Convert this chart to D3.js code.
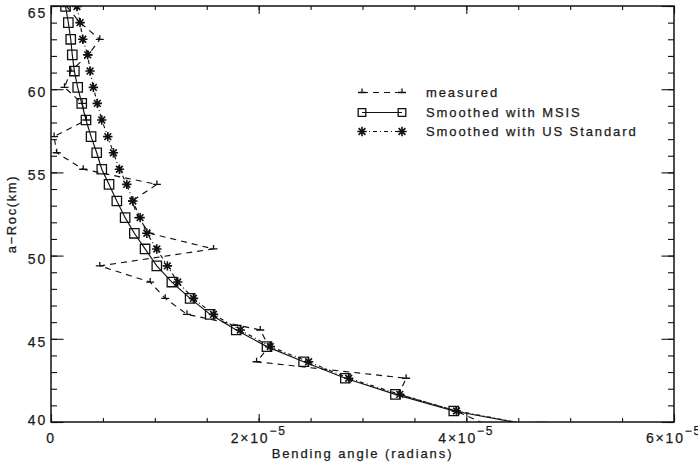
<!DOCTYPE html>
<html>
<head>
<meta charset="utf-8">
<script src="https://cdn.jsdelivr.net/npm/d3@7"></script>
<style>
  body { margin: 0; background: #fff; }
  svg text { font-family: "Liberation Sans", Arial, sans-serif; fill: #1a1a1a; stroke: #1a1a1a; stroke-width: 0.25px; }
</style>
</head>
<body>
<div id="chart"></div>
<script>
// ---------------------------------------------------------
// DATA (bending angle in units of 1e-5 rad, height in km)

const heights = [64.97, 64.0, 63.0, 62.06, 61.09, 60.11, 59.15, 58.15, 57.15,
  56.18, 55.19, 54.28, 53.28, 52.28, 51.34, 50.40, 49.38, 48.41,
  47.43, 46.47, 45.53, 44.53, 43.62, 42.63, 41.66, 40.66, 39.69]

const measured = [0.15, 0.28, 0.47, 0.36, 0.19, 0.13, 0.30, 0.34, 0.03,
  0.055, 0.31, 1.02, 0.78, 0.84, 0.95, 1.565, 0.47, 0.955,
  1.10, 1.31, 2.015, 2.10, 1.98, 3.42, 3.35, 3.90, 4.25]

const msis = [0.14, 0.167, 0.19, 0.205, 0.225, 0.257, 0.296, 0.337, 0.386,
  0.44, 0.489, 0.559, 0.634, 0.714, 0.803, 0.906, 1.019, 1.164,
  1.340, 1.533, 1.784, 2.080, 2.433, 2.835, 3.317, 3.879, 4.72]

const usStandard = [0.25, 0.280, 0.306, 0.354, 0.376, 0.408, 0.446, 0.489, 0.547,
  0.601, 0.659, 0.730, 0.788, 0.858, 0.923, 1.019, 1.121, 1.220,
  1.372, 1.565, 1.823, 2.112, 2.481, 2.867, 3.359, 3.905, 4.74]

const xMajor = [0, 2e-5, 4e-5, 6e-5]
const xMajorLabels = [["0", ""], ["2\u00d710", "\u22125"], ["4\u00d710", "\u22125"], ["6\u00d710", "\u22125"]]
const yMajor = [40, 45, 50, 55, 60, 65]
const legendNames = ["measured", "Smoothed with MSIS", "Smoothed with US Standard"]

// ---------------------------------------------------------
// SETUP

const width = 698
const height = 475
const margin = {top: 6, right: 24, bottom: 53, left: 51}

const svg = d3.select('#chart').append('svg')
  .attr('width', width)
  .attr('height', height)

const x = d3.scaleLinear().domain([0, 6e-5]).range([margin.left, width - margin.right])
const y = d3.scaleLinear().domain([40, 65]).range([height - margin.bottom, margin.top])

const toPoints = vals => vals.map((v, i) => [v * 1e-5, heights[i]])

// symbols drawn around 0,0
const squarePath = r => `M${-r},${-r}H${r}V${r}H${-r}Z`
const starPath = r => {
  const d = r * 0.72
  return `M${-r},0H${r}M0,${-r}V${r}M${-d},${-d}L${d},${d}M${-d},${d}L${d},${-d}`
}
const teePath = r => `M${-r},0H${r}M0,0V${-r}`

// ---------------------------------------------------------
// AXES

const gAx = svg.append('g')

const xMinor = d3.range(0, 6.01, 0.5).map(d => d * 1e-5)
const yMinor = d3.range(40, 65.01, 1)

const tickStyle = g => {
  g.select('.domain').remove()
  g.selectAll('.tick line').attr('stroke', '#111').attr('stroke-width', 1.1)
  g.selectAll('.tick text').remove()
}

const xSides = [[d3.axisBottom, y(40)], [d3.axisTop, y(65)]]
xSides.forEach(([ax, pos]) => {
  gAx.append('g').attr('transform', `translate(0,${pos})`)
    .call(ax(x).tickValues(xMinor).tickSize(-4)).call(tickStyle)
  gAx.append('g').attr('transform', `translate(0,${pos})`)
    .call(ax(x).tickValues(xMajor).tickSize(-8)).call(tickStyle)
})

const ySides = [[d3.axisLeft, x(0)], [d3.axisRight, x(6e-5)]]
ySides.forEach(([ax, pos]) => {
  gAx.append('g').attr('transform', `translate(${pos},0)`)
    .call(ax(y).tickValues(yMinor).tickSize(-6)).call(tickStyle)
  gAx.append('g').attr('transform', `translate(${pos},0)`)
    .call(ax(y).tickValues(yMajor).tickSize(-12.5)).call(tickStyle)
})

svg.append('rect')
  .attr('x', x(0)).attr('y', y(65))
  .attr('width', x(6e-5) - x(0)).attr('height', y(40) - y(65))
  .attr('fill', 'none').attr('stroke', '#111').attr('stroke-width', 1.5)

// tick labels
const xLab = svg.append('g').attr('font-size', 14).attr('letter-spacing', 1.8)
xMajor.forEach((v, i) => {
  const t = xLab.append('text')
    .attr('x', x(v))
    .attr('y', y(40) + 21)
    .attr('text-anchor', 'middle')
  t.append('tspan').text(xMajorLabels[i][0])
  if (xMajorLabels[i][1]) {
    t.append('tspan').attr('dy', -8).attr('font-size', 12).text(xMajorLabels[i][1])
  }
})

svg.append('g').attr('font-size', 14).attr('letter-spacing', 1.8)
  .selectAll('text').data(yMajor).join('text')
  .attr('x', x(0) - 4)
  .attr('y', d => y(d) + (d === 65 ? 12 : d === 40 ? 3 : 8))
  .attr('text-anchor', 'end')
  .text(d => d)

// axis titles
svg.append('text')
  .attr('x', (x(0) + x(6e-5)) / 2)
  .attr('y', 458)
  .attr('text-anchor', 'middle')
  .attr('font-size', 13)
  .attr('letter-spacing', 1.9)
  .text('Bending angle (radians)')

svg.append('text')
  .attr('transform', `translate(16,${(y(40) + y(65)) / 2}) rotate(-90)`)
  .attr('text-anchor', 'middle')
  .attr('font-size', 13)
  .attr('letter-spacing', 1.6)
  .text('a\u2212Roc(km)')

// ---------------------------------------------------------
// DATA LINES

svg.append('clipPath').attr('id', 'plotClip')
  .append('rect')
  .attr('x', x(0)).attr('y', y(65))
  .attr('width', x(6e-5) - x(0)).attr('height', y(40) - y(65))

const plot = svg.append('g').attr('clip-path', 'url(#plotClip)')

const line = d3.line().x(d => x(d[0])).y(d => y(d[1]))

const series = [
  {name: legendNames[0], pts: toPoints(measured), dash: '6,5', sym: teePath, r: 4, sw: 1.3},
  {name: legendNames[1], pts: toPoints(msis), dash: null, sym: squarePath, r: 4.7, sw: 1.3},
  {name: legendNames[2], pts: toPoints(usStandard), dash: '4,3,1,3', sym: starPath, r: 4.7, sw: 1.6}
]

series.forEach(s => {
  plot.append('path')
    .datum(s.pts)
    .attr('d', line)
    .attr('fill', 'none')
    .attr('stroke', '#111')
    .attr('stroke-width', 1.15)
    .attr('stroke-dasharray', s.dash)

  plot.append('g').selectAll('path').data(s.pts).join('path')
    .attr('transform', d => `translate(${x(d[0])},${y(d[1])})`)
    .attr('d', s.sym(s.r))
    .attr('fill', 'none')
    .attr('stroke', '#111')
    .attr('stroke-width', s.sw)
})

// ---------------------------------------------------------
// LEGEND

const legend = svg.append('g')
const legendRows = [92.5, 112.5, 131.5]
const lx0 = 362
const lx1 = 402

series.forEach((s, i) => {
  const ly = legendRows[i]
  legend.append('line')
    .attr('x1', lx0).attr('x2', lx1).attr('y1', ly).attr('y2', ly)
    .attr('stroke', '#111')
    .attr('stroke-width', 1.1)
    .attr('stroke-dasharray', s.dash)
  ;[lx0, lx1].forEach(px => {
    legend.append('path')
      .attr('transform', `translate(${px},${ly})`)
      .attr('d', s.sym(i === 1 ? 3.8 : s.r))
      .attr('fill', 'none')
      .attr('stroke', '#111')
      .attr('stroke-width', s.sw)
  })
  legend.append('text')
    .attr('x', 426)
    .attr('y', ly + 4.5)
    .attr('font-size', 13)
    .attr('letter-spacing', 1.9)
    .text(s.name)
})
</script>
</body>
</html>
